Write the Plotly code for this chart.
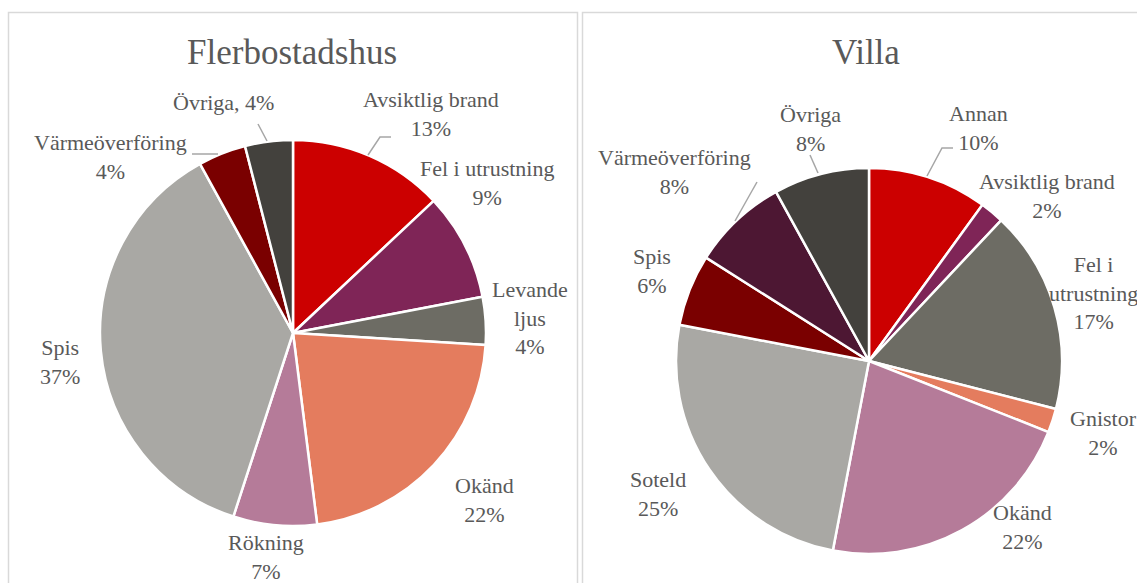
import plotly.graph_objects as go

W, H = 1137, 583

# ---- data ----
flerbo_labels = ["Avsiktlig brand", "Fel i utrustning", "Levande ljus", "Okänd",
                 "Rökning", "Spis", "Värmeöverföring", "Övriga"]
flerbo_values = [13, 9, 4, 22, 7, 37, 4, 4]

villa_labels = ["Annan", "Avsiktlig brand", "Fel i utrustning", "Gnistor", "Okänd",
                "Soteld", "Spis", "Värmeöverföring", "Övriga"]
villa_values = [10, 2, 17, 2, 22, 25, 6, 8, 8]

titles = ["Flerbostadshus", "Villa"]

# ---- styles ----
flerbo_colors = ["#CC0000", "#7F2557", "#6D6C64", "#E47C5E", "#B57B99",
                 "#A9A8A4", "#7A0000", "#43413D"]
villa_colors = ["#CC0000", "#7F2557", "#6D6C64", "#E47C5E", "#B57B99",
                "#A9A8A4", "#7A0000", "#4D1733", "#43413D"]

FONT = "Liberation Serif"
TXT = "#595959"


def px(x):
    return x / W


def py(y):
    return 1 - y / H


fig = go.Figure()

fig.add_trace(go.Pie(
    labels=flerbo_labels, values=flerbo_values, sort=False, direction="clockwise",
    rotation=0, textinfo="none", showlegend=False,
    marker=dict(colors=flerbo_colors, line=dict(color="white", width=2.5)),
    domain=dict(x=[px(100), px(486)], y=[py(526), py(140)]),
))
fig.add_trace(go.Pie(
    labels=villa_labels, values=villa_values, sort=False, direction="clockwise",
    rotation=0, textinfo="none", showlegend=False,
    marker=dict(colors=villa_colors, line=dict(color="white", width=2.5)),
    domain=dict(x=[px(676), px(1062)], y=[py(554), py(168)]),
))

# label text templates (which label names break onto lines)
flerbo_text_fmt = ["{n}<br>{v}%", "{n}<br>{v}%", "Levande<br>ljus<br>{v}%", "{n}<br>{v}%",
                   "{n}<br>{v}%", "{n}<br>{v}%", "{n}<br>{v}%", "{n}, {v}%"]
villa_text_fmt = ["{n}<br>{v}%", "{n}<br>{v}%", "Fel i<br>utrustning<br>{v}%", "{n}<br>{v}%",
                  "{n}<br>{v}%", "{n}<br>{v}%", "{n}<br>{v}%", "{n}<br>{v}%", "{n}<br>{v}%"]

# label centre positions (reference pixels)
flerbo_pos = [(431, 114), (487, 183), (530, 318), (484, 500), (266, 557),
              (60, 362), (110, 157), (223, 103)]
villa_pos = [(978, 128), (1047, 196), (1093, 293), (1103, 433), (1022, 527),
             (658, 494), (652, 271), (674, 172), (810, 129)]

annotations = []
for names, vals, fmts, pos in [(flerbo_labels, flerbo_values, flerbo_text_fmt, flerbo_pos),
                               (villa_labels, villa_values, villa_text_fmt, villa_pos)]:
    for n, v, f, (x, y) in zip(names, vals, fmts, pos):
        annotations.append(dict(
            x=px(x), y=py(y), xref="paper", yref="paper", text=f.format(n=n, v=v),
            showarrow=False, xanchor="center", yanchor="middle", align="center",
            font=dict(family=FONT, size=22, color=TXT),
        ))

for t, x in zip(titles, [292, 866]):
    annotations.append(dict(
        x=px(x), y=py(52), xref="paper", yref="paper", text=t, showarrow=False,
        xanchor="center", yanchor="middle", font=dict(family=FONT, size=35, color=TXT),
    ))

shapes = []
# panel borders
for x0, x1 in [(8.5, 577.5), (582.5, 1160)]:
    shapes.append(dict(type="rect", xref="paper", yref="paper",
                       x0=px(x0), x1=px(x1), y0=py(12.5), y1=py(620),
                       line=dict(color="#D9D9D9", width=1.5), fillcolor="rgba(0,0,0,0)",
                       layer="below"))

# leader lines (reference pixel paths)
leaders = [
    [(368, 155), (380, 137), (391, 137)],
    [(192, 154), (218, 154)],
    [(258, 124), (267, 141)],
    [(927, 176), (942, 148), (953, 148)],
    [(735, 221), (757, 182)],
    [(810, 155), (818, 173)],
]
for pts in leaders:
    path = "M " + " L ".join(f"{px(x)},{py(y)}" for x, y in pts)
    shapes.append(dict(type="path", xref="paper", yref="paper", path=path,
                       line=dict(color="#A6A6A6", width=1.5)))

fig.update_layout(
    width=W, height=H, margin=dict(l=0, r=0, t=0, b=0),
    paper_bgcolor="white", plot_bgcolor="white",
    annotations=annotations, shapes=shapes,
)

fig.write_html(
    "out.html",
    config={"displayModeBar": False},
    post_script="document.body.style.margin='0px';document.body.style.overflow='hidden';",
)
